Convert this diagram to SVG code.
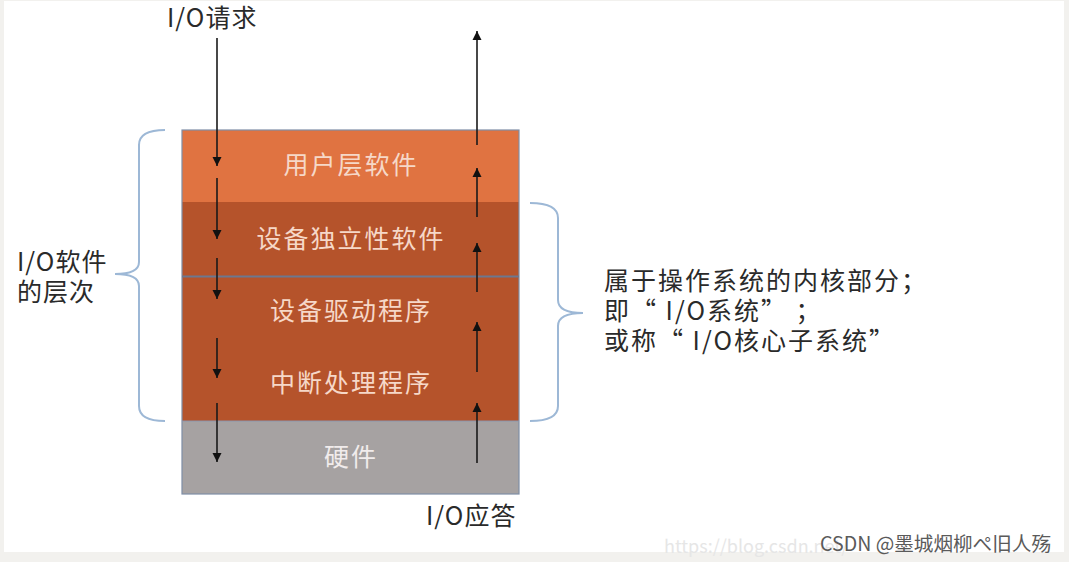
<svg xmlns="http://www.w3.org/2000/svg" width="1069" height="562" viewBox="0 0 1069 562">
<style>
.t{font-family:"Noto Sans CJK SC","Noto Sans",sans-serif;}
.lbl{font-size:25px;fill:#2a2a2a;letter-spacing:1px;}
.rt{font-size:25px;fill:#2a2a2a;letter-spacing:2px;}
.lay{font-size:25px;text-anchor:middle;letter-spacing:2px;}
.lo{fill:#f6d8c8;}
.lg{fill:#f1ecec;}
.arr{stroke:#1a1a1a;stroke-width:1.6;fill:none;marker-end:url(#ah);}
.brace{stroke:#9db8d6;stroke-width:2;fill:none;}
</style>
<defs>
<marker id="ah" markerUnits="userSpaceOnUse" markerWidth="10" markerHeight="10" refX="9" refY="5" orient="auto">
<path d="M0,0.5 L9,5 L0,9.5 z" fill="#111"/>
</marker>
</defs>
<rect x="0" y="0" width="1069" height="562" fill="#f2f1ee"/>
<rect x="4" y="1" width="1060" height="551" fill="#ffffff"/>

<g id="layer-user">
<rect x="182" y="130" width="337" height="72" fill="#e07341"/>
<text class="t lay lo" x="351" y="174">用户层软件</text>
</g>
<g id="layer-indep">
<rect x="182" y="202" width="337" height="75" fill="#b5532b"/>
<text class="t lay lo" x="351" y="248">设备独立性软件</text>
</g>
<g id="layer-driver">
<rect x="182" y="277" width="337" height="72" fill="#b5532b"/>
<text class="t lay lo" x="351" y="320">设备驱动程序</text>
</g>
<g id="layer-interrupt">
<rect x="182" y="349" width="337" height="72" fill="#b5532b"/>
<text class="t lay lo" x="351" y="392">中断处理程序</text>
</g>
<g id="layer-hw">
<rect x="182" y="421" width="337" height="73" fill="#a6a2a2"/>
<text class="t lay lg" x="351" y="466">硬件</text>
</g>
<rect x="182" y="130" width="337" height="364" fill="none" stroke="#7f8ea6" stroke-width="1.2"/>
<line x1="182" y1="276.5" x2="519" y2="276.5" stroke="#6c7890" stroke-width="2"/>
<line x1="182" y1="421" x2="519" y2="421" stroke="#8a95ad" stroke-width="1"/>

<g id="connectors">
<line class="arr" x1="217" y1="38" x2="217" y2="166"/>
<line class="arr" x1="217" y1="178" x2="217" y2="239"/>
<line class="arr" x1="217" y1="258" x2="217" y2="299"/>
<line class="arr" x1="217" y1="338" x2="217" y2="378"/>
<line class="arr" x1="217" y1="403" x2="217" y2="462"/>
<line class="arr" x1="477" y1="145" x2="477" y2="31"/>
<line class="arr" x1="477" y1="217" x2="477" y2="168"/>
<line class="arr" x1="477" y1="292" x2="477" y2="243"/>
<line class="arr" x1="477" y1="372" x2="477" y2="322"/>
<line class="arr" x1="477" y1="463" x2="477" y2="403"/>
</g>

<g id="brace-left">
<path class="brace" d="M165,130 Q139,130 139,145 L139,262 Q139,274 115,274 Q139,274 139,286 L139,406 Q139,421 165,421"/>
</g>
<g id="brace-right">
<path class="brace" d="M530,203 Q558,203 558,218 L558,300 Q558,313 583,313 Q558,313 558,326 L558,406 Q558,421 530,421"/>
</g>

<g id="label-request"><text class="t lbl" x="167" y="27">I/O请求</text></g>
<g id="label-response"><text class="t lbl" x="426" y="525">I/O应答</text></g>
<g id="label-left">
<text class="t lbl" x="17" y="271">I/O软件</text>
<text class="t lbl" x="17" y="301">的层次</text>
</g>
<g id="label-right">
<text class="t rt" x="604" y="290">属于操作系统的内核部分；</text>
<text class="t rt" x="604" y="320">即“ I/O系统” ；</text>
<text class="t rt" x="604" y="350">或称“ I/O核心子系统”</text>
</g>

<text class="t" x="664" y="553" font-size="18" fill="#e6e6e6">https://blog.csdn.net/</text>
<text class="t" x="820" y="551" font-size="19.6" fill="#5a5a5a">CSDN @墨城烟柳ぺ旧人殇</text>
</svg>
